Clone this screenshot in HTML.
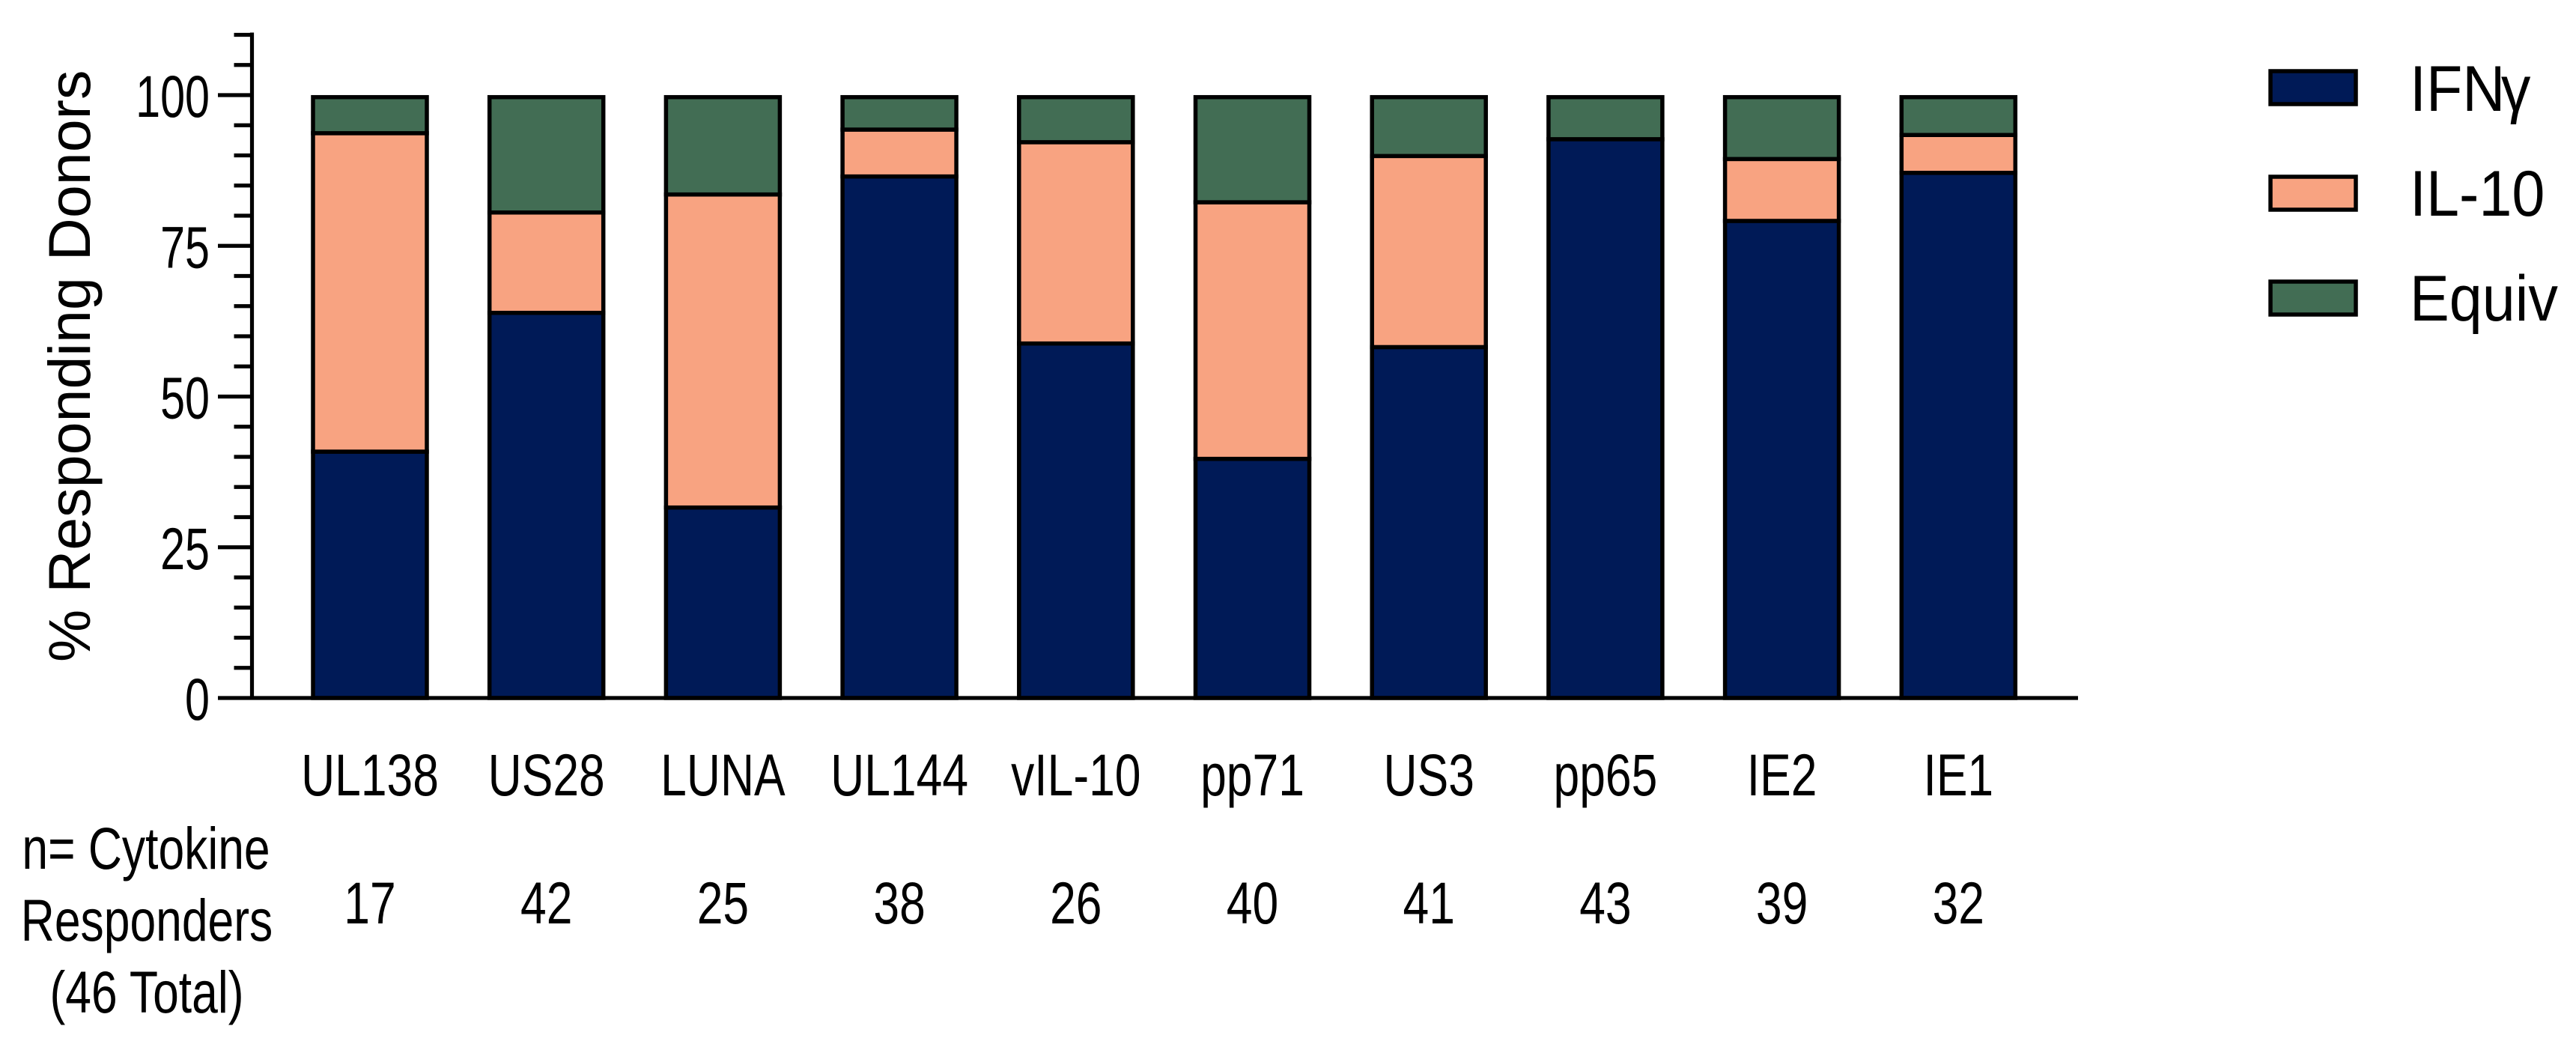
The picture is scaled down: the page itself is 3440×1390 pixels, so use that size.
<!DOCTYPE html>
<html>
<head>
<meta charset="utf-8">
<title>% Responding Donors</title>
<style>
html,body{margin:0;padding:0;background:#fff;width:3440px;height:1390px;overflow:hidden}
svg{display:block}
text{font-family:"Liberation Sans",Arial,sans-serif;fill:#000}
</style>
</head>
<body>
<svg id="chart" xmlns="http://www.w3.org/2000/svg" width="3440" height="1390" viewBox="0 0 3440 1390">
  <text transform="translate(120,884) rotate(-90)" font-size="79">% Responding Donors</text>
  <g font-size="79" text-anchor="middle">
    <text transform="translate(195,1160) scale(.79,1)">n= Cytokine</text>
    <text transform="translate(196,1256) scale(.79,1)">Responders</text>
    <text transform="translate(196,1352) scale(.79,1)">(46 Total)</text>
  </g>
  <g id="bars"></g>
  <g id="axes"></g>
  <g id="labels"></g>
  <g>
    <rect x="3032" y="95" width="114" height="44" fill="#001a57" stroke="#000" stroke-width="5.5"/>
    <text transform="translate(3218,148) scale(.92,1)" font-size="86">IFN<tspan dx="-6">γ</tspan></text>
    <rect x="3032" y="236" width="114" height="44" fill="#f8a381" stroke="#000" stroke-width="5.5"/>
    <text transform="translate(3218,288) scale(.92,1)" font-size="86">IL-10</text>
    <rect x="3032" y="376" width="114" height="44" fill="#426d54" stroke="#000" stroke-width="5.5"/>
    <text transform="translate(3218,428) scale(.92,1)" font-size="86">Equiv</text>
  </g>
</svg>
<script>
const categories = ["UL138","US28","LUNA","UL144","vIL-10","pp71","US3","pp65","IE2","IE1"];
const responders = [17,42,25,38,26,40,41,43,39,32];
const ifng = [41.0,64.1,31.7,86.8,59.0,39.8,58.4,93.0,79.4,87.4];
const il10 = [53.0,16.7,52.1,7.8,33.5,42.7,31.8,0,10.3,6.3];
const equiv = [6.0,19.2,16.2,5.4,7.5,17.5,9.8,7.0,10.3,6.3];
const majorTicks = [0,25,50,75,100];
const minorTicks = [5,10,15,20,30,35,40,45,55,60,65,70,80,85,90,95,105,110];

const NS = "http://www.w3.org/2000/svg";
const barsG = document.getElementById("bars");
const axesG = document.getElementById("axes");
const labelsG = document.getElementById("labels");

function xPos(i){ return 494 + 235.7 * i; }
function yTick(v){ return 932 - 8.05 * v; }
function yBar(v){ return 932 - 8.023 * v; }

function addLine(x1,y1,x2,y2){
  const l = document.createElementNS(NS,"line");
  l.setAttribute("x1",x1);
  l.setAttribute("y1",y1);
  l.setAttribute("x2",x2);
  l.setAttribute("y2",y2);
  l.setAttribute("stroke","#000");
  l.setAttribute("stroke-width","5.2");
  axesG.appendChild(l);
  return l;
}
function addText(str,tx,ty,anchor,sx){
  const t = document.createElementNS(NS,"text");
  t.setAttribute("transform","translate("+tx+","+ty+") scale("+sx+",1)");
  t.setAttribute("font-size","79");
  t.setAttribute("text-anchor",anchor);
  t.textContent = str;
  labelsG.appendChild(t);
  return t;
}
function addSegment(i,from,to,fill){
  const r = document.createElementNS(NS,"rect");
  r.setAttribute("x",xPos(i)-76);
  r.setAttribute("y",yBar(to));
  r.setAttribute("width",152);
  r.setAttribute("height",Math.max(0,yBar(from)-yBar(to)));
  r.setAttribute("fill",fill);
  r.setAttribute("stroke","#000");
  r.setAttribute("stroke-width","5.5");
  barsG.appendChild(r);
  return r;
}

categories.forEach(function(cat,i){
  const a = ifng[i], b = a + il10[i], c = b + equiv[i];
  const r1 = addSegment(i,0,a,"#001a57");
  
  
  if (il10[i] > 0) {
    const r2 = addSegment(i,a,b,"#f8a381");
    
    
  }
  const r3 = addSegment(i,b,c,"#426d54");
  
  

  const t1 = addText(cat,xPos(i),1062,"middle",.79);
  
  
  const t2 = addText(String(responders[i]),xPos(i),1233,"middle",.79);
  
  
});

const yAxisLine = addLine(336.5,43.5,336.5,934);


const xAxisLine = addLine(291,932,2775,932);



majorTicks.forEach(function(v){
  if (v > 0) {
    const tk = addLine(291,yTick(v),336,yTick(v));
    
    
  }
  const lb = addText(String(v),280,yTick(v)+29,"end",.75);
  
  
});
minorTicks.forEach(function(v){
  const tk = addLine(312.5,yTick(v),336,yTick(v));
  
  
});
</script>
</body>
</html>
